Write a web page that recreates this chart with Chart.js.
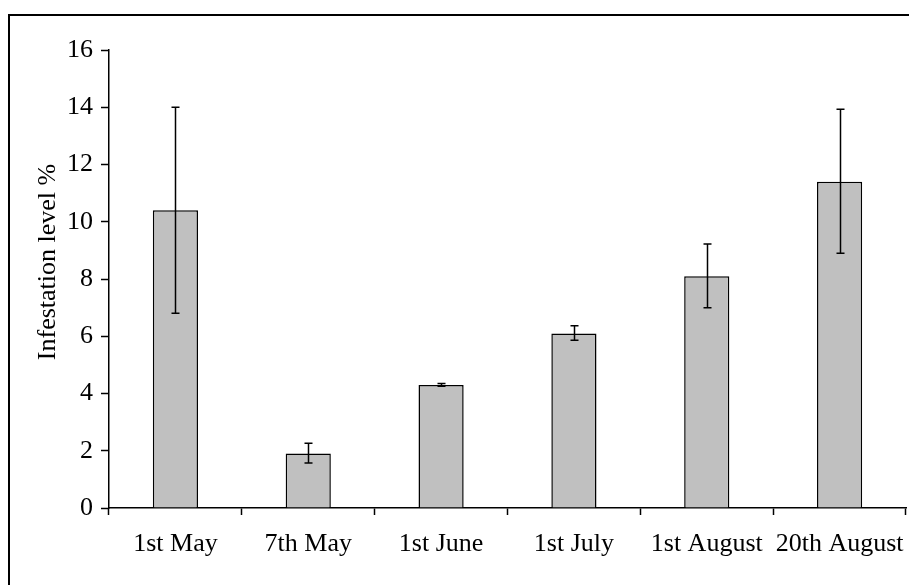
<!DOCTYPE html>
<html>
<head>
<meta charset="utf-8">
<script src="https://cdn.jsdelivr.net/npm/chart.js@4"></script>
<style>
  body { margin: 0; background: #fff; }
  #wrap { width: 909px; height: 585px; position: relative; }
</style>
</head>
<body>
<div id="wrap"><canvas id="bar-chart"></canvas></div>
<script>
const dates = ["1st May", "7th May", "1st June", "1st July", "1st August", "20th August"];
const infestation = [10.4, 1.9, 4.3, 6.1, 8.1, 11.4];
const errLow = [6.8, 1.57, 4.25, 5.86, 7.0, 8.9];
const errHigh = [14.0, 2.26, 4.35, 6.37, 9.22, 13.93];
const yTicks = [0, 2, 4, 6, 8, 10, 12, 14, 16];

const serif = "'Liberation Serif', 'Times New Roman', serif";

// error bars + frame + rotated title
const extras = {
    id: 'extras',
    afterDatasetsDraw(chart) {
        const ctx = chart.ctx;
        const x = chart.scales.x;
        const y = chart.scales.y;
        ctx.save();
        ctx.strokeStyle = '#000';
        ctx.lineWidth = 1.5;
        for (var i in dates) {
            const cx = Math.round(x.getPixelForValue(Number(i))) + 0.5;
            const top = y.getPixelForValue(errHigh[i]);
            const bot = y.getPixelForValue(errLow[i]);
            ctx.beginPath();
            ctx.moveTo(cx, top);
            ctx.lineTo(cx, bot);
            ctx.moveTo(cx - 4, top);
            ctx.lineTo(cx + 4, top);
            ctx.moveTo(cx - 4, bot);
            ctx.lineTo(cx + 4, bot);
            ctx.stroke();
        }
        ctx.restore();
    },
    afterDraw(chart) {
        const ctx = chart.ctx;
        ctx.save();
        ctx.strokeStyle = '#000';
        ctx.lineWidth = 2;
        ctx.strokeRect(9, 15, 920, 600);
        ctx.translate(48, 262);
        ctx.rotate(-Math.PI / 2);
        ctx.fillStyle = '#000';
        ctx.font = "26px " + serif;
        ctx.textAlign = 'center';
        ctx.textBaseline = 'middle';
        ctx.fillText("Infestation level %", 0, 0);
        ctx.restore();
    }
};

new Chart(document.getElementById("bar-chart"), {
    type: 'bar',
    data: {
        labels: dates,
        datasets: [
            {
                label: "Infestation level %",
                data: infestation,
                backgroundColor: '#c0c0c0',
                borderColor: '#000',
                borderWidth: 1.5,
                categoryPercentage: 1,
                barPercentage: 0.34
            }
        ]
    },
    options: {
        responsive: true,
        maintainAspectRatio: false,
        animation: false,
        layout: { padding: { left: 0, top: 50, right: 3, bottom: 0 } },
        plugins: {
            legend: { display: false },
            tooltip: { enabled: false }
        },
        scales: {
            x: {
                offset: true,
                grid: {
                    offset: true,
                    drawOnChartArea: false,
                    color: '#000',
                    tickLength: 7,
                    tickWidth: 1.5
                },
                border: { color: '#000', width: 1.5 },
                ticks: {
                    color: '#000',
                    font: { family: serif, size: 26 },
                    padding: 14,
                    maxRotation: 0,
                    autoSkip: false
                },
                afterFit(scale) {
                    scale.height = 77;
                    scale.paddingLeft = 0;
                    scale.paddingRight = 0;
                }
            },
            y: {
                min: 0,
                max: 16,
                afterBuildTicks(scale) {
                    scale.ticks = yTicks.map(v => ({ value: v }));
                },
                grid: {
                    drawOnChartArea: false,
                    color: '#000',
                    tickLength: 8,
                    tickWidth: 1.5
                },
                border: { color: '#000', width: 1.5 },
                ticks: {
                    color: '#000',
                    font: { family: serif, size: 26 },
                    padding: 8
                },
                afterFit(scale) { scale.width = 109; }
            }
        }
    },
    plugins: [extras]
});
</script>
</body>
</html>
